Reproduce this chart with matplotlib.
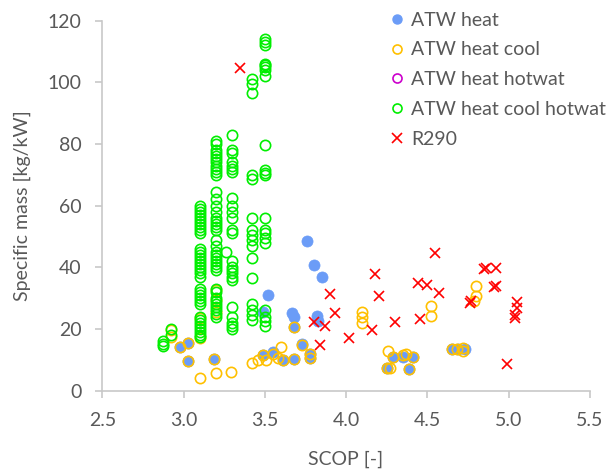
import matplotlib
matplotlib.use("Agg")
import matplotlib.pyplot as plt
from matplotlib.ticker import FormatStrFormatter, MultipleLocator
from matplotlib.lines import Line2D

plt.rcParams['font.family'] = ['Lato', 'DejaVu Sans']

# ---- data ----
heat_x = [2.98, 3.03, 3.03, 3.19, 3.52, 3.49, 3.49, 3.55, 3.61, 3.67, 3.68, 3.68, 3.68,
          3.73, 3.76, 3.80, 3.85, 3.82, 3.83, 3.78, 3.78, 4.25, 4.29, 4.35, 4.41, 4.39,
          4.65, 4.69, 4.73]
heat_y = [14.3, 15.4, 9.7, 10.3, 31.0, 25.6, 11.6, 12.6, 10.0, 25.3, 24.0, 10.3, 20.7,
          15.0, 48.6, 40.7, 37.0, 24.2, 22.6, 12.0, 10.6, 7.3, 11.0, 11.0, 11.0, 6.9,
          13.4, 13.4, 13.4]

cool_x = [2.92, 2.92, 2.98, 3.03, 3.03, 3.10, 3.10, 3.10, 3.19, 3.20, 3.20, 3.20, 3.20,
          3.29, 3.42, 3.46, 3.49, 3.51, 3.55, 3.58, 3.60, 3.61, 3.68, 3.68, 3.73, 3.78,
          3.78, 4.10, 4.10, 4.10, 4.26, 4.25, 4.27, 4.29, 4.35, 4.37, 4.41, 4.39, 4.52,
          4.52, 4.65, 4.68, 4.72, 4.72, 4.80, 4.80, 4.79]
cool_y = [19.7, 17.5, 14.3, 15.4, 9.7, 4.0, 23.5, 17.0, 10.3, 5.8, 32.5, 29.5, 25.6,
          6.2, 9.1, 10.0, 11.6, 10.0, 12.0, 10.5, 14.3, 10.0, 20.7, 10.3, 14.8, 12.0,
          10.5, 25.6, 24.0, 21.9, 12.9, 7.2, 7.5, 11.0, 11.5, 12.0, 11.0, 6.9, 27.5,
          24.2, 13.4, 13.4, 14.0, 13.0, 33.9, 30.7, 29.2]

hotwat_x = []
hotwat_y = []

g287 = [16, 14.5, 15]
g292 = [20, 18]
g310 = [60, 59, 58, 57, 56, 55, 54, 53, 52, 51, 46, 45, 44, 43, 42, 41, 40, 39, 38, 37,
        33, 32, 31, 30, 29, 28, 24, 23, 22, 21, 20, 19, 18, 17.5]
g320 = [81, 80, 78, 77, 76, 75, 74, 73, 72, 71, 70, 64.5, 62, 60, 58, 56, 55, 54, 53, 52,
        49, 47, 45, 44, 43, 42, 41, 40, 39, 33, 32, 30, 29, 28, 27, 26, 25, 24]
g326 = [45]
g330 = [83, 78, 77, 74, 73, 72, 71, 62.5, 60, 58, 56, 52, 51, 42, 40, 39, 38, 37, 36,
        27, 24, 22, 21, 20]
g342 = [101, 99.5, 96.5, 70, 68.5, 56, 52, 50.5, 49, 47, 43, 36.5, 28, 26, 24.5, 23]
g350 = [114, 113, 112, 106, 105.5, 105, 104, 102, 79.5, 71.5, 70.5, 70, 56, 52, 51,
        49.5, 48, 26, 24, 22.5, 21]
all_x = [2.87] * len(g287) + [2.92] * len(g292) + [3.10] * len(g310) + [3.20] * len(g320) \
    + [3.26] * len(g326) + [3.30] * len(g330) + [3.42] * len(g342) + [3.50] * len(g350)
all_y = g287 + g292 + g310 + g320 + g326 + g330 + g342 + g350

r290_x = [3.35, 3.80, 3.84, 3.87, 3.90, 3.93, 4.02, 4.16, 4.18, 4.20, 4.30, 4.445, 4.455,
          4.50, 4.55, 4.57, 4.76, 4.77, 4.85, 4.86, 4.92, 4.91, 4.92, 4.99, 5.05, 5.05,
          5.04, 5.04]
r290_y = [104.5, 22.4, 14.8, 21.1, 31.3, 25.1, 17.0, 19.7, 37.7, 30.8, 22.4, 34.8, 23.1,
          34.3, 44.7, 31.8, 28.5, 29.0, 39.4, 39.7, 39.7, 33.5, 33.9, 8.5, 28.9, 26.7,
          24.5, 23.6]

labels = ["ATW heat", "ATW heat cool", "ATW heat hotwat", "ATW heat cool hotwat", "R290"]
c_blue = "#6b9cf7"
c_yellow = "#ffc000"
c_mag = "#cc00cc"
c_green = "#00ee00"
c_red = "#ff0000"
text_c = "#595959"
axis_c = "#c8c8c8"
fs = 14

fig = plt.figure(figsize=(6.15, 4.75), dpi=100)
ax = fig.add_axes([0.1665, 0.1775, 0.9589 - 0.1665, 0.9568 - 0.1775])

ms = 7.4
mew = 1.2
ax.plot(heat_x, heat_y, 'o', ls='none', ms=ms + 0.6, mfc=c_blue, mec=c_blue, mew=0.5)
ax.plot(cool_x, cool_y, 'o', ls='none', ms=ms, mfc='none', mec=c_yellow, mew=mew)
ax.plot(hotwat_x, hotwat_y, 'o', ls='none', ms=ms, mfc='none', mec=c_mag, mew=mew)
ax.plot(all_x, all_y, 'o', ls='none', ms=ms, mfc='none', mec=c_green, mew=mew)
ax.plot(r290_x, r290_y, 'x', ls='none', ms=ms, mec=c_red, mew=1.2)

ax.set_xlim(2.5, 5.5)
ax.set_ylim(0, 120)
ax.xaxis.set_major_locator(MultipleLocator(0.5))
ax.yaxis.set_major_locator(MultipleLocator(20))
ax.xaxis.set_major_formatter(FormatStrFormatter('%.1f'))
for s in ['top', 'right']:
    ax.spines[s].set_visible(False)
for s in ['left', 'bottom']:
    ax.spines[s].set_color(axis_c)
    ax.spines[s].set_linewidth(1.2)
ax.tick_params(axis='both', colors=axis_c, labelcolor=text_c, labelsize=fs,
               length=5, width=1.2, direction='out')
ax.tick_params(axis='x', pad=10)
ax.tick_params(axis='y', pad=10)
ax.set_xlabel("SCOP [-]", color=text_c, fontsize=fs, labelpad=16)
ax.set_ylabel("Specific mass [kg/kW]", color=text_c, fontsize=fs, labelpad=12)

handles = [
    Line2D([], [], marker='o', ls='none', ms=6.5, mfc=c_blue, mec=c_blue),
    Line2D([], [], marker='o', ls='none', ms=6.5, mfc='none', mec=c_yellow, mew=1.2),
    Line2D([], [], marker='o', ls='none', ms=6.5, mfc='none', mec=c_mag, mew=1.2),
    Line2D([], [], marker='o', ls='none', ms=6.5, mfc='none', mec=c_green, mew=1.2),
    Line2D([], [], marker='x', ls='none', ms=6.5, mec=c_red, mew=1.2),
]
leg = fig.legend(handles, labels, loc='upper left', bbox_to_anchor=(377 / 615, 1 + 2 / 475),
                 frameon=False, fontsize=fs, handlelength=0.7, handletextpad=0.35,
                 labelspacing=0.66, borderpad=0.2)
for t in leg.get_texts():
    t.set_color(text_c)

fig.savefig("out.png", dpi=100)
